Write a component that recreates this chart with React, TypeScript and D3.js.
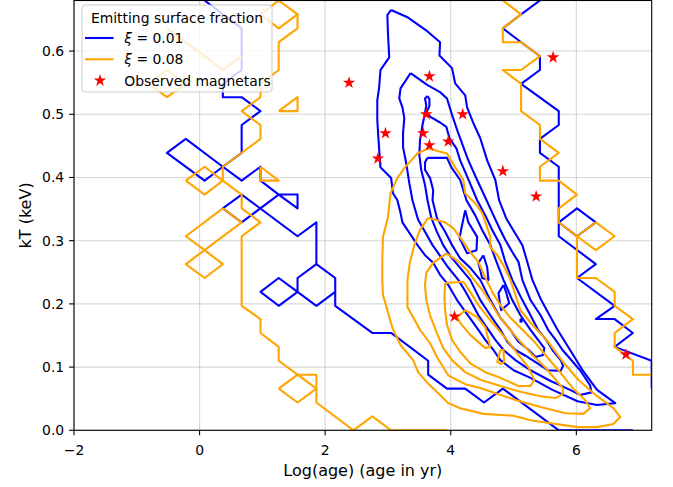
import React from "react";
import * as d3 from "d3";

type Pt = [number, number];

// Axis ticks
const X_TICKS = [-2, 0, 2, 4, 6];
const Y_TICKS = [0, 0.1, 0.2, 0.3, 0.4, 0.5, 0.6];

// Observed magnetars: log(age / yr) and surface temperature kT (keV)
const MAGNETAR_LOG_AGE = [2.38, 3.66, 3.61, 4.19, 2.96, 3.56, 3.96, 3.66, 2.84, 5.63, 4.83, 5.36, 4.06, 6.79];
const MAGNETAR_KT = [0.55, 0.56, 0.5, 0.5, 0.47, 0.47, 0.457, 0.451, 0.43, 0.59, 0.41, 0.37, 0.18, 0.12];

// ---- xi = 0.01 density contours (log age, kT) ----
const blueOuterNorthwest: Pt[] = [[0.08,.680],[0.67,.636],[0.67,.570],[0.37,.548],[0.37,.527],[0.67,.527],[0.97,.505],[0.67,.483],[0.67,.439],[0.37,.417],[0.08,.395],[-0.52,.439],[-0.22,.461],[0.37,.417],[0.67,.395],[0.97,.417],[0.97,.395],[1.26,.373],[1.56,.351],[1.56,.373],[1.26,.373]];
const blueOuterSouth: Pt[] = [[1.26,.373],[0.67,.329],[0.37,.351],[0.67,.373],[1.56,.307],[1.86,.329],[1.86,.263],[2.16,.241],[2.16,.197],[2.75,.154],[3.05,.154],[3.64,.110],[3.64,.088],[3.94,.066],[4.23,.066],[4.53,.044],[4.83,.066],[5.72,0],[6.90,0]];
const blueLoopWest: Pt[] = [[1.86,.263],[1.56,.241],[1.56,.219],[1.26,.241],[0.97,.219],[1.26,.197],[1.56,.219],[1.86,.197],[2.16,.219]];
const blueEastEdge: Pt[] = [[5.42,.680],[5.12,.658],[4.83,.636],[5.12,.614],[5.42,.592],[5.42,.570],[5.12,.548],[5.72,.505],[5.72,.483],[5.42,.461],[5.42,.439],[5.72,.417],[5.72,.307],[6.31,.263],[6.01,.241],[6.61,.197],[6.31,.176],[6.61,.176],[6.90,.154],[6.61,.132],[7.20,.110],[7.20,.066]];
const blueEastDiamond: Pt[] = [[5.72,.329],[6.01,.351],[6.31,.329],[6.01,.307]];
const blueCore1: Pt[] = [[3.05,.665],[3.32,.653],[3.63,.631],[3.83,.614],[3.82,.593],[4.02,.573],[4.07,.549],[4.23,.530],[4.26,.511],[4.36,.486],[4.47,.462],[4.58,.427],[4.71,.396],[4.77,.364],[4.88,.336],[5.01,.314],[5.14,.293],[5.22,.266],[5.30,.238],[5.44,.206],[5.70,.159],[5.90,.127],[6.10,.095],[6.33,.064],[6.62,.043],[6.33,.040],[6.02,.046],[5.62,.064],[5.27,.083],[5.00,.095],[4.79,.111],[4.68,.127],[4.55,.143],[4.44,.159],[4.28,.181],[4.10,.206],[3.96,.230],[3.83,.246],[3.72,.265],[3.59,.277],[3.47,.293],[3.31,.317],[3.23,.329],[3.20,.344],[3.15,.364],[3.08,.375],[3.05,.399],[2.88,.416],[2.85,.459],[2.83,.491],[2.83,.522],[2.86,.543],[2.88,.570],[3.02,.590],[3.00,.628],[2.99,.657]];
const blueCore2: Pt[] = [[3.36,.565],[3.63,.546],[3.83,.535],[3.94,.525],[4.02,.499],[4.12,.470],[4.22,.443],[4.28,.427],[4.42,.396],[4.57,.364],[4.68,.340],[4.79,.317],[4.87,.301],[4.98,.282],[5.08,.266],[5.14,.238],[5.27,.206],[5.43,.182],[5.55,.159],[5.67,.143],[5.78,.127],[6.06,.095],[6.22,.071],[6.24,.060],[6.06,.056],[5.90,.064],[5.59,.078],[5.27,.095],[5.03,.111],[4.84,.127],[4.71,.143],[4.60,.159],[4.44,.182],[4.31,.206],[4.22,.222],[4.12,.238],[3.94,.260],[3.83,.276],[3.71,.293],[3.59,.314],[3.48,.333],[3.39,.364],[3.34,.391],[3.29,.423],[3.24,.448],[3.24,.470],[3.26,.494],[3.23,.511],[3.18,.525],[3.20,.541]];
const blueCore3: Pt[] = [[3.63,.529],[3.66,.524],[3.66,.513],[3.61,.502],[3.69,.495],[3.83,.487],[3.93,.480],[3.98,.462],[4.09,.446],[4.15,.427],[4.25,.404],[4.42,.364],[4.55,.340],[4.66,.317],[4.79,.293],[4.87,.266],[4.98,.238],[5.14,.206],[5.27,.182],[5.39,.159],[5.52,.143],[5.62,.127],[5.75,.111],[5.79,.102],[5.75,.094],[5.55,.095],[5.35,.108],[5.19,.118],[5.03,.127],[4.90,.140],[4.79,.159],[4.63,.182],[4.47,.206],[4.31,.238],[4.15,.257],[3.99,.276],[3.88,.293],[3.78,.314],[3.69,.336],[3.63,.364],[3.59,.388],[3.53,.412],[3.50,.435],[3.51,.459],[3.55,.483],[3.59,.502],[3.61,.514],[3.59,.525]];
const blueCore4: Pt[] = [[3.63,.431],[3.94,.431],[4.01,.416],[4.15,.396],[4.25,.364],[4.39,.340],[4.50,.317],[4.63,.293],[4.73,.266],[4.84,.238],[4.98,.206],[5.11,.182],[5.27,.159],[5.39,.143],[5.49,.130],[5.47,.119],[5.35,.116],[5.24,.127],[5.08,.140],[4.95,.159],[4.79,.178],[4.63,.206],[4.47,.238],[4.31,.257],[4.15,.272],[4.02,.293],[3.91,.314],[3.78,.336],[3.71,.364],[3.72,.380],[3.67,.399],[3.59,.412],[3.59,.424]];
const blueIsland1: Pt[] = [[4.23,.348],[4.17,.320],[4.14,.304],[4.26,.280],[4.41,.285],[4.42,.306],[4.28,.329]];
const blueIsland2: Pt[] = [[4.52,.277],[4.44,.265],[4.50,.241],[4.60,.238],[4.58,.258]];
const blueIsland3: Pt[] = [[4.84,.230],[4.76,.217],[4.80,.190],[4.93,.201],[4.88,.219]];
const blueIsland4: Pt[] = [[5.11,.176],[5.13,.176],[5.13,.172],[5.11,.172]];

// ---- xi = 0.08 density contours (log age, kT) ----
const orangeWestTopDiamond: Pt[] = [[0.97,.658],[1.26,.680],[1.56,.658],[1.26,.636]];
const orangeWestSpine: Pt[] = [[1.56,.658],[1.56,.636],[1.26,.614],[1.26,.570],[0.97,.548],[0.97,.527],[0.67,.505],[0.97,.483],[0.97,.461],[0.37,.417],[0.37,.395],[0.67,.373],[0.67,.351],[0.97,.329],[0.67,.307],[0.67,.197],[0.97,.176],[0.97,.154],[1.26,.132],[1.26,.110],[1.56,.088],[1.86,.088],[1.86,.044],[2.45,0],[2.75,.022],[3.05,0],[3.94,0]];
const orangeWestTriangle: Pt[] = [[1.26,.505],[1.56,.527],[1.56,.505]];
const orangeLegendDiamond: Pt[] = [[-0.81,.548],[-0.52,.570],[-0.22,.548],[-0.52,.527]];
const orangeLegendStroke: Pt[] = [[-0.52,.636],[0.08,.592],[0.37,.570],[0.67,.592]];
const orangeWestDiamond: Pt[] = [[-0.22,.395],[0.08,.417],[0.37,.395],[0.08,.373]];
const orangeWestLoopUpper: Pt[] = [[0.37,.351],[-0.22,.307],[0.08,.285],[0.67,.329]];
const orangeWestLoopLower: Pt[] = [[0.08,.285],[0.37,.263],[0.08,.241],[-0.22,.263]];
const orangeWestNotch: Pt[] = [[0.97,.417],[1.26,.395],[0.97,.395]];
const orangeSouthDiamond: Pt[] = [[1.26,.066],[1.56,.088],[1.86,.066],[1.56,.044]];
const orangeEastEdge: Pt[] = [[4.83,.680],[5.12,.658],[4.83,.636],[4.83,.614],[5.12,.614],[5.42,.592],[5.12,.570],[4.83,.570],[5.12,.548],[5.12,.505],[5.42,.483],[5.42,.461],[5.72,.439],[5.42,.417],[5.42,.395],[5.72,.395],[6.01,.373],[5.72,.351],[5.72,.329],[6.01,.307],[6.01,.241],[6.31,.241],[6.61,.219],[6.61,.197],[6.90,.176],[6.61,.154],[6.61,.132],[6.90,.110],[6.90,.088],[7.20,.088]];
const orangeEastDiamond: Pt[] = [[6.01,.307],[6.31,.329],[6.61,.307],[6.31,.285]];
const orangeCore1: Pt[] = [[3.64,.446],[3.94,.438],[4.07,.416],[4.20,.396],[4.23,.375],[4.39,.359],[4.50,.344],[4.58,.321],[4.63,.306],[4.63,.290],[4.74,.277],[4.84,.261],[4.95,.238],[5.03,.214],[5.11,.190],[5.30,.167],[5.55,.140],[5.79,.108],[6.03,.080],[6.33,.054],[6.59,.035],[6.70,.021],[6.59,.010],[6.33,.005],[6.02,.005],[5.54,.012],[5.27,.016],[5.00,.023],[4.52,.026],[4.15,.035],[3.96,.043],[3.83,.056],[3.63,.075],[3.48,.092],[3.40,.111],[3.20,.135],[3.07,.162],[3.00,.187],[2.92,.214],[2.91,.238],[2.91,.269],[2.92,.306],[3.00,.337],[3.04,.375],[3.15,.399],[3.27,.416],[3.47,.438]];
const orangeCore2: Pt[] = [[3.64,.336],[3.91,.329],[4.04,.320],[4.18,.301],[4.31,.282],[4.44,.266],[4.53,.246],[4.66,.219],[4.79,.198],[4.95,.178],[5.14,.159],[5.35,.138],[5.55,.114],[5.75,.091],[5.94,.067],[6.14,.048],[6.22,.035],[6.11,.026],[5.83,.027],[5.43,.037],[5.03,.048],[4.74,.058],[4.47,.067],[4.23,.073],[3.96,.087],[3.79,.114],[3.67,.138],[3.51,.159],[3.31,.195],[3.31,.238],[3.35,.266],[3.42,.293],[3.51,.317]];
const orangeCore3: Pt[] = [[3.93,.280],[4.10,.269],[4.26,.253],[4.37,.238],[4.50,.222],[4.63,.203],[4.76,.182],[4.92,.162],[5.11,.140],[5.30,.119],[5.51,.099],[5.67,.080],[5.78,.067],[5.79,.058],[5.67,.051],[5.43,.054],[5.11,.061],[4.79,.070],[4.47,.080],[4.23,.092],[4.02,.111],[3.88,.130],[3.77,.156],[3.67,.182],[3.61,.206],[3.59,.230],[3.61,.249],[3.72,.265]];
const orangeCore4: Pt[] = [[3.91,.233],[4.20,.235],[4.31,.219],[4.44,.198],[4.60,.178],[4.76,.159],[4.92,.140],[5.08,.119],[5.24,.099],[5.33,.080],[5.27,.070],[5.08,.070],[4.79,.083],[4.55,.092],[4.31,.106],[4.15,.124],[4.02,.143],[3.94,.167],[3.91,.190],[3.90,.211]];
const orangeCoreLoop: Pt[] = [[4.10,.179],[4.23,.190],[4.42,.179],[4.55,.163],[4.63,.132],[4.55,.130],[4.31,.151],[4.15,.170]];
const orangeCoreDrop: Pt[] = [[4.79,.127],[4.74,.108],[4.80,.105],[4.85,.108],[4.84,.127]];

type Contour = { pts: Pt[]; closed: boolean };

const BLUE_CONTOURS: Contour[] = [
  { pts: blueOuterNorthwest, closed: false },
  { pts: blueOuterSouth, closed: false },
  { pts: blueLoopWest, closed: false },
  { pts: blueEastEdge, closed: false },
  { pts: blueEastDiamond, closed: true },
  { pts: blueCore1, closed: true },
  { pts: blueCore2, closed: true },
  { pts: blueCore3, closed: true },
  { pts: blueCore4, closed: true },
  { pts: blueIsland1, closed: true },
  { pts: blueIsland2, closed: true },
  { pts: blueIsland3, closed: true },
  { pts: blueIsland4, closed: true },
];

const ORANGE_CONTOURS: Contour[] = [
  { pts: orangeWestTopDiamond, closed: true },
  { pts: orangeWestSpine, closed: false },
  { pts: orangeWestTriangle, closed: true },
  { pts: orangeLegendDiamond, closed: true },
  { pts: orangeLegendStroke, closed: false },
  { pts: orangeWestDiamond, closed: true },
  { pts: orangeWestLoopUpper, closed: true },
  { pts: orangeWestLoopLower, closed: true },
  { pts: orangeWestNotch, closed: true },
  { pts: orangeSouthDiamond, closed: true },
  { pts: orangeEastEdge, closed: false },
  { pts: orangeEastDiamond, closed: true },
  { pts: orangeCore1, closed: true },
  { pts: orangeCore2, closed: true },
  { pts: orangeCore3, closed: true },
  { pts: orangeCore4, closed: true },
  { pts: orangeCoreLoop, closed: true },
  { pts: orangeCoreDrop, closed: true },
];

const BLUE = "#0000ff";
const ORANGE = "#ffa500";
const FONT = "DejaVu Sans, sans-serif";

export default function App() {
  const W = 673;
  const H = 487;
  const left = 74;
  const right = 651.7;
  const top = 0.5;
  const bottom = 430.3;

  const x = d3.scaleLinear().domain([-2, 7.2]).range([left, right]);
  const y = d3.scaleLinear().domain([0, 0.68]).range([bottom, top]);
  const line = d3.line<Pt>().x((d) => x(d[0])).y((d) => y(d[1]));
  const pathOf = (c: Contour) => line(c.closed ? [...c.pts, c.pts[0]] : c.pts) || "";
  const star = d3.symbol(d3.symbolStar, 48)() || "";
  const fmtX = d3.format("d");
  const fmtY = d3.format(".1f");
  const tickLen = 4.9;

  return (
    <svg
      width={W}
      height={H}
      style={{ position: "absolute", left: 0, top: 0, background: "#fff" }}
      fontFamily={FONT}
    >
      <defs>
        <clipPath id="plot-area">
          <rect x={left} y={top} width={right - left} height={bottom - top} />
        </clipPath>
      </defs>

      {/* grid */}
      <g stroke="#b0b0b0" strokeOpacity={0.5} strokeWidth={1.1}>
        {X_TICKS.map((t) => (
          <line key={`gx${t}`} x1={x(t)} x2={x(t)} y1={top} y2={bottom} />
        ))}
        {Y_TICKS.map((t) => (
          <line key={`gy${t}`} x1={left} x2={right} y1={y(t)} y2={y(t)} />
        ))}
      </g>

      {/* contours */}
      <g clipPath="url(#plot-area)" fill="none" strokeWidth={2.1} strokeLinejoin="round">
        {BLUE_CONTOURS.map((c, i) => (
          <path key={`b${i}`} d={pathOf(c)} stroke={BLUE} />
        ))}
        {ORANGE_CONTOURS.map((c, i) => (
          <path key={`o${i}`} d={pathOf(c)} stroke={ORANGE} />
        ))}
      </g>

      {/* observed magnetars */}
      <g fill="#ff0000">
        {MAGNETAR_LOG_AGE.map((a, i) => (
          <path key={`s${i}`} d={star} transform={`translate(${x(a)},${y(MAGNETAR_KT[i])})`} />
        ))}
      </g>

      {/* spines */}
      <rect x={left} y={top} width={right - left} height={bottom - top} fill="none" stroke="#000" strokeWidth={1.1} />

      {/* x axis */}
      <g fontSize={13.9} fill="#000" textAnchor="middle">
        {X_TICKS.map((t) => (
          <g key={`tx${t}`}>
            <line x1={x(t)} x2={x(t)} y1={bottom} y2={bottom + tickLen} stroke="#000" strokeWidth={1.1} />
            <text x={x(t)} y={455}>{fmtX(t)}</text>
          </g>
        ))}
      </g>
      <text x={(left + right) / 2} y={476} textAnchor="middle" fontSize={16}>
        Log(age) (age in yr)
      </text>

      {/* y axis */}
      <g fontSize={13.9} fill="#000" textAnchor="end">
        {Y_TICKS.map((t) => (
          <g key={`ty${t}`}>
            <line x1={left - tickLen} x2={left} y1={y(t)} y2={y(t)} stroke="#000" strokeWidth={1.1} />
            <text x={left - 2 * tickLen} y={y(t) + 5}>{fmtY(t)}</text>
          </g>
        ))}
      </g>
      <text
        transform={`translate(31,${(top + bottom) / 2}) rotate(-90)`}
        textAnchor="middle"
        fontSize={16}
      >
        kT (keV)
      </text>

      {/* legend */}
      <g>
        <rect x={82} y={5} width={190} height={87} rx={3} fill="#fff" fillOpacity={0.8} stroke="#cccccc" strokeWidth={1} />
        <text x={177} y={22.5} textAnchor="middle" fontSize={13.9}>
          Emitting surface fraction
        </text>
        <line x1={85} x2={113.5} y1={38} y2={38} stroke={BLUE} strokeWidth={2.1} />
        <text x={124.3} y={43} fontSize={13.9}>
          <tspan fontStyle="italic">ξ</tspan> = 0.01
        </text>
        <line x1={85} x2={113.5} y1={59.3} y2={59.3} stroke={ORANGE} strokeWidth={2.1} />
        <text x={124.3} y={64.3} fontSize={13.9}>
          <tspan fontStyle="italic">ξ</tspan> = 0.08
        </text>
        <path d={star} transform="translate(100,80.6)" fill="#ff0000" />
        <text x={124.3} y={85.6} fontSize={13.9}>
          Observed magnetars
        </text>
      </g>
    </svg>
  );
}
